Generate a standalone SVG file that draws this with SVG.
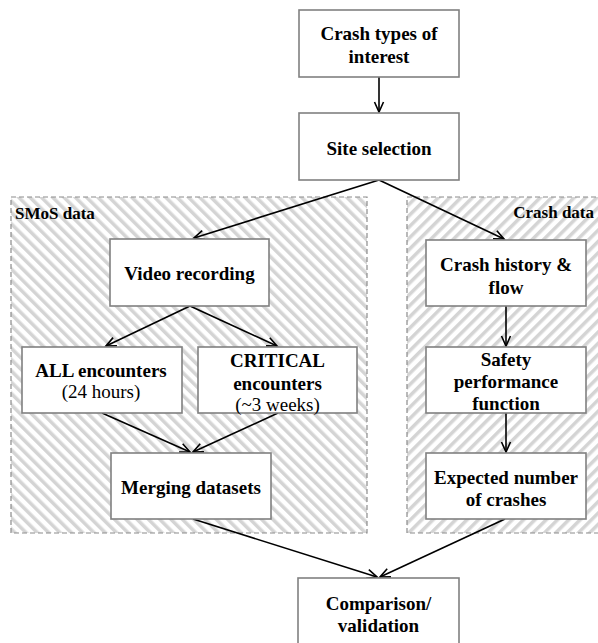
<svg xmlns="http://www.w3.org/2000/svg" width="598" height="643" viewBox="0 0 598 643">
<defs>
<pattern id="hatchL" patternUnits="userSpaceOnUse" width="8" height="8" patternTransform="rotate(-45)">
<rect x="0" y="0" width="8" height="8" fill="#ffffff"/>
<rect x="0" y="0" width="3.5" height="8" fill="#d4d4d4"/>
</pattern>
<pattern id="hatchR" patternUnits="userSpaceOnUse" width="8" height="8" patternTransform="rotate(45)">
<rect x="0" y="0" width="8" height="8" fill="#ffffff"/>
<rect x="0" y="0" width="3.5" height="8" fill="#d4d4d4"/>
</pattern>
<marker id="arr" markerWidth="14" markerHeight="12" refX="11" refY="6" orient="auto" markerUnits="userSpaceOnUse">
<path d="M1,1.5 L11,6 L1,10.5" fill="none" stroke="#000" stroke-width="1.6"/>
</marker>
<style>
.box{fill:#ffffff;stroke:#808080;stroke-width:1.6}
.grp{stroke:#8c8c8c;stroke-width:1.2;stroke-dasharray:5,3}
.c{fill:none;stroke:#000;stroke-width:1.6;marker-end:url(#arr)}
</style>
</defs>
<rect width="598" height="643" fill="#ffffff"/>
<g id="smos-group">
<rect class="grp" x="11" y="197" width="356" height="336" fill="url(#hatchL)"/>
<text font-family="Liberation Serif" font-size="17" font-weight="bold" x="15" y="219">SMoS data</text>
</g>
<g id="crash-group">
<rect class="grp" x="407" y="197" width="200" height="336" fill="url(#hatchR)"/>
<text font-family="Liberation Serif" font-size="17" font-weight="bold" x="594" y="218" text-anchor="end">Crash data</text>
</g>
<g id="connectors">
<line class="c" x1="379" y1="77" x2="379" y2="112"/>
<line class="c" x1="379" y1="180" x2="194" y2="238"/>
<line class="c" x1="379" y1="180" x2="504" y2="239"/>
<line class="c" x1="190" y1="306" x2="106" y2="346"/>
<line class="c" x1="190" y1="306" x2="277" y2="346"/>
<line class="c" x1="102" y1="413" x2="190" y2="452"/>
<line class="c" x1="278" y1="413" x2="193" y2="452"/>
<line class="c" x1="506" y1="306" x2="506" y2="346"/>
<line class="c" x1="506" y1="413" x2="506" y2="452"/>
<line class="c" x1="193" y1="519" x2="377" y2="577"/>
<line class="c" x1="505" y1="519" x2="380" y2="577"/>
</g>
<g id="crash-types">
<rect class="box" x="299" y="10" width="160" height="67"/>
<text font-family="Liberation Serif" font-size="19" font-weight="bold" text-anchor="middle" x="379" y="40">Crash types of</text>
<text font-family="Liberation Serif" font-size="19" font-weight="bold" text-anchor="middle" x="379" y="63">interest</text>
</g>
<g id="site-selection">
<rect class="box" x="299" y="113" width="160" height="67"/>
<text font-family="Liberation Serif" font-size="19" font-weight="bold" text-anchor="middle" x="379" y="155">Site selection</text>
</g>
<g id="video-recording">
<rect class="box" x="110" y="239" width="159" height="67"/>
<text font-family="Liberation Serif" font-size="19" font-weight="bold" text-anchor="middle" x="189.5" y="280">Video recording</text>
</g>
<g id="all-encounters">
<rect class="box" x="22" y="347" width="160" height="66"/>
<text font-family="Liberation Serif" font-size="19" font-weight="bold" text-anchor="middle" x="101" y="377">ALL encounters</text>
<text font-family="Liberation Serif" font-size="19" text-anchor="middle" x="101" y="398">(24 hours)</text>
</g>
<g id="critical-encounters">
<rect class="box" x="198" y="347" width="159" height="66"/>
<text font-family="Liberation Serif" font-size="19" font-weight="bold" text-anchor="middle" x="277.5" y="366.5">CRITICAL</text>
<text font-family="Liberation Serif" font-size="19" font-weight="bold" text-anchor="middle" x="277.5" y="389.5">encounters</text>
<text font-family="Liberation Serif" font-size="19" text-anchor="middle" x="277.5" y="410.5">(~3 weeks)</text>
</g>
<g id="merging-datasets">
<rect class="box" x="111" y="453" width="160" height="66"/>
<text font-family="Liberation Serif" font-size="19" font-weight="bold" text-anchor="middle" x="191" y="493.5">Merging datasets</text>
</g>
<g id="crash-history">
<rect class="box" x="426" y="240" width="160" height="66"/>
<text font-family="Liberation Serif" font-size="19" font-weight="bold" text-anchor="middle" x="506" y="270.5">Crash history &amp;</text>
<text font-family="Liberation Serif" font-size="19" font-weight="bold" text-anchor="middle" x="506" y="293.5">flow</text>
</g>
<g id="spf">
<rect class="box" x="426" y="347" width="160" height="66"/>
<text font-family="Liberation Serif" font-size="19" font-weight="bold" text-anchor="middle" x="506" y="365.5">Safety</text>
<text font-family="Liberation Serif" font-size="19" font-weight="bold" text-anchor="middle" x="506" y="388">performance</text>
<text font-family="Liberation Serif" font-size="19" font-weight="bold" text-anchor="middle" x="506" y="409.5">function</text>
</g>
<g id="expected-crashes">
<rect class="box" x="426" y="453" width="160" height="66"/>
<text font-family="Liberation Serif" font-size="19" font-weight="bold" text-anchor="middle" x="506" y="483.5">Expected number</text>
<text font-family="Liberation Serif" font-size="19" font-weight="bold" text-anchor="middle" x="506" y="505.5">of crashes</text>
</g>
<g id="comparison">
<rect class="box" x="298" y="578" width="161" height="70"/>
<text font-family="Liberation Serif" font-size="19" font-weight="bold" text-anchor="middle" x="378.5" y="609.5">Comparison/</text>
<text font-family="Liberation Serif" font-size="19" font-weight="bold" text-anchor="middle" x="378.5" y="631.5">validation</text>
</g>
</svg>
